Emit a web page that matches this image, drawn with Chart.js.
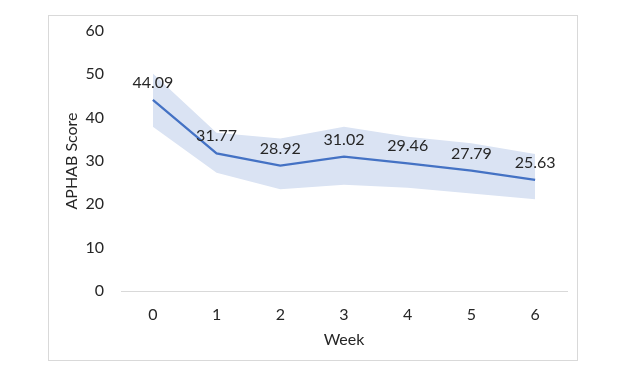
<!DOCTYPE html>
<html>
<head>
<meta charset="utf-8">
<script src="https://cdn.jsdelivr.net/npm/chart.js@4.4.1/dist/chart.umd.min.js"></script>
<style>
  html, body { margin: 0; padding: 0; background: #fff; }
  #frame { position: absolute; left: 48px; top: 15px; width: 530px; height: 346px; box-sizing: border-box; border: 1px solid #d9d9d9; }
  #c { display: block; }
</style>
</head>
<body>
<div id="frame"><canvas id="c" width="528" height="344"></canvas></div>
<script>
const weeks = ['0', '1', '2', '3', '4', '5', '6'];
const meanScore = [44.09, 31.77, 28.92, 31.02, 29.46, 27.79, 25.63];
const upperBound = [50.2, 36.5, 35.2, 37.9, 35.6, 34.1, 31.6];
const lowerBound = [37.9, 27.3, 23.5, 24.5, 23.8, 22.5, 21.2];
const yTicks = [0, 10, 20, 30, 40, 50, 60];

const FONT = 'Lato, "Open Sans", sans-serif';

const labelPlugin = {
  id: 'pointLabels',
  afterDatasetsDraw(chart) {
    const ctx = chart.ctx;
    const meta = chart.getDatasetMeta(0);
    ctx.save();
    ctx.font = '16px ' + FONT;
    ctx.fillStyle = '#262626';
    ctx.textAlign = 'center';
    ctx.textBaseline = 'middle';
    meta.data.forEach((pt, i) => {
      ctx.fillText(meanScore[i].toFixed(2), pt.x, pt.y - 17);
    });
    ctx.restore();
  }
};

new Chart(document.getElementById('c'), {
  type: 'line',
  data: {
    labels: weeks,
    datasets: [
      {
        label: 'Mean',
        data: meanScore,
        borderColor: '#4472C4',
        borderWidth: 2.25,
        pointRadius: 0,
        tension: 0,
        fill: false,
        order: 0
      },
      {
        label: 'Upper',
        data: upperBound,
        borderWidth: 0,
        borderColor: 'rgba(0,0,0,0)',
        backgroundColor: '#dae3f3',
        pointRadius: 0,
        tension: 0,
        fill: '+1',
        order: 1
      },
      {
        label: 'Lower',
        data: lowerBound,
        borderWidth: 0,
        borderColor: 'rgba(0,0,0,0)',
        pointRadius: 0,
        tension: 0,
        fill: false,
        order: 2
      }
    ]
  },
  options: {
    responsive: false,
    animation: false,
    layout: { padding: { left: 0, right: 10, top: 15, bottom: 0 } },
    plugins: {
      legend: { display: false },
      tooltip: { enabled: false }
    },
    scales: {
      x: {
        type: 'category',
        offset: true,
        grid: { display: false, drawTicks: false },
        border: { display: true, color: '#d9d9d9', width: 1 },
        ticks: { color: '#262626', font: { family: FONT, size: 16 }, padding: 14 },
        title: { display: true, text: 'Week', color: '#262626', font: { family: FONT, size: 16 }, padding: { top: 0, bottom: 11 } },
        afterFit(scale) { scale.height = 69; scale.paddingLeft = 0; scale.paddingRight = 0; }
      },
      y: {
        min: 0,
        max: 60,
        afterBuildTicks(scale) { scale.ticks = yTicks.map(v => ({ value: v })); },
        grid: { display: false, drawTicks: false },
        border: { display: false },
        ticks: { color: '#262626', font: { family: FONT, size: 16 }, padding: 17 },
        title: { display: true, text: 'APHAB Score', color: '#262626', font: { family: FONT, size: 16 }, padding: { top: 13, bottom: 0 } },
        afterFit(scale) { scale.width = 72; scale.paddingTop = 0; scale.paddingBottom = 0; }
      }
    }
  },
  plugins: [labelPlugin]
});
</script>
</body>
</html>
